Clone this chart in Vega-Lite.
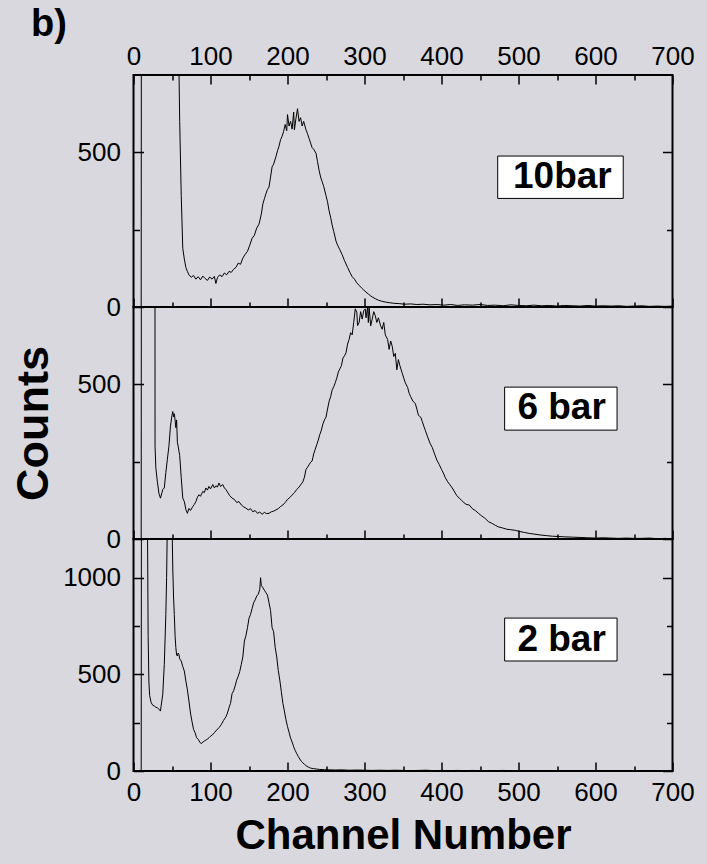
{
  "$schema": "https://vega.github.io/schema/vega-lite/v6.json",
  "padding": {"left": 9.5, "top": 6, "right": 14, "bottom": 16},
  "title": {"text": "b)", "anchor": "start", "fontSize": 38, "fontWeight": "bold", "font": "Liberation Sans", "color": "black", "dx": 21, "offset": -2},
  "spacing": 0,
  "bounds": "flush",
  "resolve": {"scale": {"x": "independent", "y": "independent"}},
  "datasets": {
    "p10": [
      {"c":0,"n":0},{"c":5,"n":0},{"c":10,"n":0},{"c":11,"n":5000},{"c":58,"n":5000},{"c":59,"n":780},{"c":60,"n":600},{"c":62,"n":360},{"c":64,"n":190},{"c":66,"n":155},{"c":68,"n":128},{"c":70,"n":115},{"c":72,"n":104},{"c":75,"n":96},{"c":78,"n":102},{"c":81,"n":90},{"c":84,"n":98},{"c":87,"n":88},{"c":90,"n":100},{"c":93,"n":92},{"c":96,"n":86},{"c":99,"n":97},{"c":102,"n":90},{"c":105,"n":99},{"c":107,"n":76},{"c":109,"n":95},{"c":112,"n":104},{"c":115,"n":98},{"c":118,"n":110},{"c":121,"n":104},{"c":124,"n":115},{"c":127,"n":112},{"c":130,"n":122},{"c":133,"n":128},{"c":136,"n":142},{"c":139,"n":138},{"c":142,"n":158},{"c":145,"n":170},{"c":148,"n":180},{"c":151,"n":200},{"c":154,"n":222},{"c":157,"n":232},{"c":160,"n":255},{"c":163,"n":268},{"c":166,"n":300},{"c":168,"n":333},{"c":170,"n":350},{"c":172,"n":366},{"c":174,"n":380},{"c":176,"n":388},{"c":178,"n":420},{"c":180,"n":453},{"c":182,"n":462},{"c":185,"n":486},{"c":187,"n":505},{"c":189,"n":520},{"c":191,"n":541},{"c":193,"n":552},{"c":195,"n":568},{"c":197,"n":590},{"c":199,"n":570},{"c":200,"n":622},{"c":202,"n":585},{"c":204,"n":600},{"c":206,"n":575},{"c":208,"n":630},{"c":209,"n":573},{"c":211,"n":610},{"c":213,"n":641},{"c":215,"n":600},{"c":217,"n":612},{"c":219,"n":585},{"c":221,"n":600},{"c":224,"n":573},{"c":226,"n":560},{"c":228,"n":545},{"c":230,"n":530},{"c":232,"n":515},{"c":234,"n":510},{"c":237,"n":497},{"c":239,"n":470},{"c":241,"n":442},{"c":243,"n":420},{"c":245,"n":405},{"c":247,"n":390},{"c":250,"n":360},{"c":252,"n":340},{"c":254,"n":311},{"c":256,"n":290},{"c":258,"n":265},{"c":260,"n":245},{"c":263,"n":213},{"c":265,"n":200},{"c":268,"n":185},{"c":271,"n":169},{"c":274,"n":150},{"c":278,"n":128},{"c":281,"n":112},{"c":284,"n":98},{"c":287,"n":90},{"c":290,"n":78},{"c":293,"n":70},{"c":296,"n":62},{"c":299,"n":55},{"c":302,"n":48},{"c":305,"n":42},{"c":308,"n":36},{"c":311,"n":31},{"c":314,"n":27},{"c":318,"n":22},{"c":322,"n":19},{"c":327,"n":16},{"c":332,"n":14},{"c":338,"n":12},{"c":345,"n":11},{"c":352,"n":9},{"c":360,"n":10},{"c":368,"n":8},{"c":376,"n":9},{"c":385,"n":7},{"c":394,"n":8},{"c":403,"n":6},{"c":412,"n":8},{"c":421,"n":5},{"c":430,"n":7},{"c":440,"n":6},{"c":450,"n":8},{"c":460,"n":5},{"c":470,"n":6},{"c":480,"n":4},{"c":490,"n":7},{"c":500,"n":5},{"c":510,"n":4},{"c":520,"n":6},{"c":530,"n":4},{"c":540,"n":5},{"c":550,"n":3},{"c":560,"n":5},{"c":570,"n":4},{"c":580,"n":3},{"c":590,"n":5},{"c":600,"n":3},{"c":610,"n":4},{"c":620,"n":3},{"c":630,"n":4},{"c":640,"n":2},{"c":650,"n":3},{"c":660,"n":4},{"c":670,"n":2},{"c":680,"n":3},{"c":690,"n":2},{"c":700,"n":3}
    ],
    "p6": [
      {"c":0,"n":0},{"c":5,"n":0},{"c":10,"n":0},{"c":11,"n":5000},{"c":27,"n":5000},{"c":28,"n":300},{"c":29,"n":230},{"c":31,"n":185},{"c":33,"n":148},{"c":35,"n":132},{"c":37,"n":150},{"c":38,"n":160},{"c":40,"n":165},{"c":42,"n":215},{"c":44,"n":258},{"c":46,"n":300},{"c":48,"n":365},{"c":50,"n":400},{"c":51,"n":412},{"c":52,"n":395},{"c":53,"n":405},{"c":54,"n":385},{"c":55,"n":360},{"c":56,"n":385},{"c":57,"n":312},{"c":58,"n":300},{"c":60,"n":270},{"c":62,"n":198},{"c":64,"n":132},{"c":66,"n":121},{"c":68,"n":95},{"c":70,"n":83},{"c":72,"n":99},{"c":74,"n":92},{"c":77,"n":105},{"c":79,"n":112},{"c":81,"n":121},{"c":83,"n":135},{"c":85,"n":143},{"c":87,"n":138},{"c":90,"n":154},{"c":92,"n":150},{"c":94,"n":165},{"c":96,"n":158},{"c":98,"n":170},{"c":100,"n":162},{"c":103,"n":176},{"c":105,"n":165},{"c":107,"n":172},{"c":109,"n":168},{"c":111,"n":181},{"c":113,"n":170},{"c":116,"n":176},{"c":118,"n":165},{"c":120,"n":160},{"c":122,"n":152},{"c":125,"n":140},{"c":128,"n":132},{"c":131,"n":128},{"c":134,"n":118},{"c":137,"n":121},{"c":140,"n":110},{"c":143,"n":104},{"c":146,"n":100},{"c":149,"n":94},{"c":152,"n":98},{"c":155,"n":88},{"c":158,"n":92},{"c":161,"n":83},{"c":164,"n":87},{"c":167,"n":80},{"c":170,"n":86},{"c":173,"n":82},{"c":176,"n":83},{"c":179,"n":88},{"c":182,"n":90},{"c":185,"n":94},{"c":188,"n":98},{"c":191,"n":105},{"c":194,"n":110},{"c":197,"n":118},{"c":200,"n":128},{"c":203,"n":134},{"c":206,"n":142},{"c":209,"n":150},{"c":212,"n":160},{"c":215,"n":168},{"c":218,"n":178},{"c":220,"n":185},{"c":222,"n":200},{"c":224,"n":225},{"c":226,"n":232},{"c":228,"n":240},{"c":230,"n":248},{"c":232,"n":252},{"c":234,"n":275},{"c":236,"n":290},{"c":238,"n":305},{"c":240,"n":320},{"c":242,"n":338},{"c":244,"n":352},{"c":246,"n":372},{"c":248,"n":385},{"c":250,"n":394},{"c":252,"n":420},{"c":254,"n":445},{"c":256,"n":460},{"c":258,"n":482},{"c":260,"n":492},{"c":262,"n":505},{"c":264,"n":520},{"c":266,"n":540},{"c":268,"n":550},{"c":270,"n":560},{"c":272,"n":585},{"c":274,"n":592},{"c":276,"n":602},{"c":278,"n":630},{"c":280,"n":645},{"c":282,"n":667},{"c":284,"n":660},{"c":286,"n":700},{"c":288,"n":744},{"c":290,"n":733},{"c":291,"n":690},{"c":293,"n":700},{"c":295,"n":735},{"c":297,"n":711},{"c":299,"n":738},{"c":301,"n":744},{"c":302,"n":715},{"c":304,"n":749},{"c":305,"n":700},{"c":306,"n":749},{"c":308,"n":689},{"c":310,"n":711},{"c":312,"n":735},{"c":314,"n":722},{"c":316,"n":700},{"c":318,"n":715},{"c":321,"n":689},{"c":323,"n":678},{"c":325,"n":700},{"c":327,"n":660},{"c":330,"n":645},{"c":332,"n":613},{"c":334,"n":640},{"c":336,"n":623},{"c":338,"n":590},{"c":340,"n":600},{"c":342,"n":547},{"c":344,"n":580},{"c":346,"n":560},{"c":349,"n":536},{"c":351,"n":520},{"c":353,"n":505},{"c":356,"n":490},{"c":358,"n":471},{"c":360,"n":460},{"c":363,"n":445},{"c":366,"n":438},{"c":368,"n":420},{"c":370,"n":400},{"c":373,"n":394},{"c":375,"n":380},{"c":377,"n":365},{"c":379,"n":351},{"c":382,"n":330},{"c":385,"n":310},{"c":388,"n":296},{"c":391,"n":275},{"c":394,"n":255},{"c":397,"n":241},{"c":400,"n":225},{"c":403,"n":210},{"c":405,"n":198},{"c":408,"n":185},{"c":411,"n":175},{"c":414,"n":165},{"c":417,"n":152},{"c":420,"n":140},{"c":423,"n":132},{"c":426,"n":125},{"c":429,"n":118},{"c":432,"n":112},{"c":436,"n":110},{"c":440,"n":98},{"c":444,"n":92},{"c":448,"n":83},{"c":452,"n":75},{"c":456,"n":68},{"c":461,"n":56},{"c":466,"n":50},{"c":470,"n":44},{"c":474,"n":39},{"c":479,"n":36},{"c":484,"n":32},{"c":490,"n":30},{"c":496,"n":28},{"c":502,"n":24},{"c":508,"n":21},{"c":514,"n":18},{"c":520,"n":16},{"c":528,"n":13},{"c":536,"n":11},{"c":544,"n":9},{"c":552,"n":8},{"c":560,"n":7},{"c":570,"n":6},{"c":580,"n":5},{"c":590,"n":4},{"c":600,"n":3},{"c":610,"n":4},{"c":620,"n":3},{"c":630,"n":2},{"c":640,"n":3},{"c":650,"n":2},{"c":660,"n":2},{"c":670,"n":3},{"c":680,"n":1},{"c":690,"n":2},{"c":700,"n":1}
    ],
    "p2": [
      {"c":0,"n":0},{"c":5,"n":0},{"c":10,"n":0},{"c":11,"n":5000},{"c":17,"n":5000},{"c":18,"n":1400},{"c":19,"n":700},{"c":20,"n":460},{"c":21,"n":390},{"c":23,"n":353},{"c":25,"n":340},{"c":27,"n":336},{"c":29,"n":330},{"c":31,"n":327},{"c":33,"n":320},{"c":35,"n":310},{"c":36,"n":340},{"c":38,"n":397},{"c":40,"n":552},{"c":42,"n":810},{"c":43,"n":1000},{"c":44,"n":1300},{"c":45,"n":5000},{"c":49,"n":5000},{"c":50,"n":1300},{"c":51,"n":1050},{"c":52,"n":900},{"c":53,"n":810},{"c":54,"n":700},{"c":55,"n":638},{"c":56,"n":600},{"c":57,"n":595},{"c":58,"n":610},{"c":59,"n":603},{"c":60,"n":580},{"c":62,"n":569},{"c":64,"n":540},{"c":66,"n":517},{"c":68,"n":465},{"c":70,"n":420},{"c":72,"n":362},{"c":74,"n":300},{"c":76,"n":255},{"c":78,"n":215},{"c":80,"n":198},{"c":82,"n":172},{"c":84,"n":164},{"c":86,"n":150},{"c":88,"n":141},{"c":90,"n":150},{"c":92,"n":155},{"c":94,"n":160},{"c":96,"n":165},{"c":98,"n":172},{"c":100,"n":180},{"c":102,"n":185},{"c":105,"n":198},{"c":108,"n":212},{"c":111,"n":224},{"c":114,"n":240},{"c":117,"n":262},{"c":120,"n":280},{"c":122,"n":300},{"c":124,"n":327},{"c":126,"n":350},{"c":128,"n":400},{"c":130,"n":415},{"c":132,"n":440},{"c":134,"n":470},{"c":136,"n":490},{"c":138,"n":515},{"c":140,"n":552},{"c":142,"n":590},{"c":144,"n":672},{"c":146,"n":700},{"c":148,"n":741},{"c":150,"n":790},{"c":152,"n":810},{"c":154,"n":840},{"c":156,"n":870},{"c":158,"n":885},{"c":160,"n":905},{"c":162,"n":914},{"c":164,"n":940},{"c":165,"n":1000},{"c":166,"n":960},{"c":168,"n":948},{"c":170,"n":935},{"c":172,"n":922},{"c":174,"n":910},{"c":176,"n":870},{"c":178,"n":830},{"c":180,"n":741},{"c":182,"n":720},{"c":184,"n":640},{"c":186,"n":590},{"c":188,"n":520},{"c":190,"n":470},{"c":192,"n":410},{"c":194,"n":350},{"c":196,"n":310},{"c":198,"n":265},{"c":200,"n":230},{"c":202,"n":200},{"c":204,"n":170},{"c":206,"n":150},{"c":208,"n":125},{"c":210,"n":106},{"c":212,"n":90},{"c":214,"n":75},{"c":216,"n":62},{"c":218,"n":50},{"c":220,"n":42},{"c":222,"n":35},{"c":224,"n":28},{"c":227,"n":20},{"c":230,"n":15},{"c":234,"n":12},{"c":238,"n":10},{"c":242,"n":8},{"c":248,"n":7},{"c":255,"n":6},{"c":262,"n":5},{"c":270,"n":6},{"c":280,"n":4},{"c":290,"n":5},{"c":300,"n":4},{"c":310,"n":3},{"c":320,"n":4},{"c":330,"n":3},{"c":340,"n":4},{"c":350,"n":3},{"c":360,"n":2},{"c":370,"n":3},{"c":380,"n":4},{"c":390,"n":2},{"c":400,"n":3},{"c":410,"n":2},{"c":420,"n":3},{"c":430,"n":2},{"c":440,"n":3},{"c":450,"n":2},{"c":460,"n":1},{"c":470,"n":2},{"c":480,"n":3},{"c":490,"n":2},{"c":500,"n":1},{"c":510,"n":2},{"c":520,"n":2},{"c":530,"n":1},{"c":540,"n":2},{"c":550,"n":1},{"c":560,"n":2},{"c":570,"n":1},{"c":580,"n":2},{"c":590,"n":1},{"c":600,"n":1},{"c":610,"n":2},{"c":620,"n":1},{"c":630,"n":1},{"c":640,"n":2},{"c":650,"n":1},{"c":660,"n":1},{"c":670,"n":2},{"c":680,"n":1},{"c":690,"n":1},{"c":700,"n":1}
    ]
  },
  "vconcat": [
    {
      "width": 539, "height": 232,
      "resolve": {"axis": {"x": "independent", "y": "independent"}},
      "layer": [
        {
          "data": {"name": "p10"},
          "mark": {"type": "line", "color": "black", "strokeWidth": 1, "clip": true},
          "encoding": {
            "x": {"field": "c", "type": "quantitative", "scale": {"domain": [0, 700], "nice": false, "zero": false},
                  "axis": {"orient": "bottom", "values": [0,100,200,300,400,500,600,700], "tickSize": -9, "labels": false, "title": null}},
            "y": {"field": "n", "type": "quantitative", "scale": {"domain": [0, 750], "nice": false},
                  "axis": {"orient": "left", "values": [0, 500], "format": "d", "tickSize": -10, "labelPadding": 23, "title": null}}
          }
        },
        {
          "data": {"values": [{"x0": 473, "x1": 636, "y0": 488, "y1": 351}]},
          "mark": {"type": "rect", "fill": "white", "stroke": "black", "strokeWidth": 1},
          "encoding": {
            "x": {"field": "x0", "type": "quantitative", "axis": {"orient": "bottom", "values": [50,150,250,350,450,550,650], "tickSize": -5, "labels": false, "title": null}},
            "x2": {"field": "x1"},
            "y": {"field": "y0", "type": "quantitative", "axis": {"orient": "left", "values": [250], "tickSize": -6, "labels": false, "title": null}},
            "y2": {"field": "y1"}
          }
        },
        {
          "data": {"values": [{"c": 557, "n": 420, "label": "10bar"}]},
          "mark": {"type": "text", "font": "Liberation Sans", "fontSize": 37, "fontWeight": "bold", "color": "black", "align": "center", "baseline": "middle"},
          "encoding": {
            "x": {"field": "c", "type": "quantitative", "axis": {"orient": "top", "values": [0,100,200,300,400,500,600,700], "tickSize": -9, "labelPadding": 15, "title": null}},
            "y": {"field": "n", "type": "quantitative", "axis": {"orient": "right", "values": [0, 500], "tickSize": -10, "labels": false, "title": null}},
            "text": {"field": "label"}
          }
        },
        {
          "data": {"values": [{"c": 557, "n": 420}]},
          "mark": {"type": "point", "opacity": 0},
          "encoding": {
            "x": {"field": "c", "type": "quantitative", "axis": {"orient": "top", "values": [50,150,250,350,450,550,650], "tickSize": -5, "labels": false, "title": null}},
            "y": {"field": "n", "type": "quantitative", "axis": {"orient": "right", "values": [250], "tickSize": -6, "labels": false, "title": null}}
          }
        }
      ]
    },
    {
      "width": 539, "height": 232,
      "resolve": {"axis": {"x": "independent", "y": "independent"}},
      "layer": [
        {
          "data": {"name": "p6"},
          "mark": {"type": "line", "color": "black", "strokeWidth": 1, "clip": true},
          "encoding": {
            "x": {"field": "c", "type": "quantitative", "scale": {"domain": [0, 700], "nice": false, "zero": false},
                  "axis": {"orient": "bottom", "values": [0,100,200,300,400,500,600,700], "tickSize": -9, "labels": false, "title": null}},
            "y": {"field": "n", "type": "quantitative", "scale": {"domain": [0, 750], "nice": false},
                  "axis": {"orient": "left", "values": [0, 500], "format": "d", "tickSize": -10, "labelPadding": 23, "title": "Counts", "titleFontSize": 45, "titlePadding": 21}}
          }
        },
        {
          "data": {"values": [{"x0": 482, "x1": 628, "y0": 491, "y1": 352}]},
          "mark": {"type": "rect", "fill": "white", "stroke": "black", "strokeWidth": 1},
          "encoding": {
            "x": {"field": "x0", "type": "quantitative", "axis": {"orient": "bottom", "values": [50,150,250,350,450,550,650], "tickSize": -5, "labels": false, "title": null}},
            "x2": {"field": "x1"},
            "y": {"field": "y0", "type": "quantitative", "axis": {"orient": "left", "values": [250], "tickSize": -6, "labels": false, "title": null}},
            "y2": {"field": "y1"}
          }
        },
        {
          "data": {"values": [{"c": 556, "n": 422, "label": "6 bar"}]},
          "mark": {"type": "text", "font": "Liberation Sans", "fontSize": 37, "fontWeight": "bold", "color": "black", "align": "center", "baseline": "middle"},
          "encoding": {
            "x": {"field": "c", "type": "quantitative", "axis": null},
            "y": {"field": "n", "type": "quantitative", "axis": {"orient": "right", "values": [0, 500], "tickSize": -10, "labels": false, "title": null}},
            "text": {"field": "label"}
          }
        },
        {
          "data": {"values": [{"c": 556, "n": 422}]},
          "mark": {"type": "point", "opacity": 0},
          "encoding": {
            "x": {"field": "c", "type": "quantitative", "axis": null},
            "y": {"field": "n", "type": "quantitative", "axis": {"orient": "right", "values": [250], "tickSize": -6, "labels": false, "title": null}}
          }
        }
      ]
    },
    {
      "width": 539, "height": 232,
      "resolve": {"axis": {"x": "independent", "y": "independent"}},
      "layer": [
        {
          "data": {"name": "p2"},
          "mark": {"type": "line", "color": "black", "strokeWidth": 1, "clip": true},
          "encoding": {
            "x": {"field": "c", "type": "quantitative", "scale": {"domain": [0, 700], "nice": false, "zero": false},
                  "axis": {"orient": "bottom", "values": [0,100,200,300,400,500,600,700], "tickSize": -9, "labelPadding": 17, "title": "Channel Number", "titlePadding": 10}},
            "y": {"field": "n", "type": "quantitative", "scale": {"domain": [0, 1200], "nice": false},
                  "axis": {"orient": "left", "values": [0, 500, 1000], "format": "d", "tickSize": -10, "labelPadding": 23, "title": null}}
          }
        },
        {
          "data": {"values": [{"x0": 482, "x1": 628, "y0": 791, "y1": 569}]},
          "mark": {"type": "rect", "fill": "white", "stroke": "black", "strokeWidth": 1},
          "encoding": {
            "x": {"field": "x0", "type": "quantitative", "axis": {"orient": "bottom", "values": [50,150,250,350,450,550,650], "tickSize": -5, "labels": false, "title": null}},
            "x2": {"field": "x1"},
            "y": {"field": "y0", "type": "quantitative", "axis": {"orient": "left", "values": [250, 750], "tickSize": -6, "labels": false, "title": null}},
            "y2": {"field": "y1"}
          }
        },
        {
          "data": {"values": [{"c": 556, "n": 680, "label": "2 bar"}]},
          "mark": {"type": "text", "font": "Liberation Sans", "fontSize": 37, "fontWeight": "bold", "color": "black", "align": "center", "baseline": "middle"},
          "encoding": {
            "x": {"field": "c", "type": "quantitative", "axis": null},
            "y": {"field": "n", "type": "quantitative", "axis": {"orient": "right", "values": [0, 500, 1000], "tickSize": -10, "labels": false, "title": null}},
            "text": {"field": "label"}
          }
        },
        {
          "data": {"values": [{"c": 556, "n": 680}]},
          "mark": {"type": "point", "opacity": 0},
          "encoding": {
            "x": {"field": "c", "type": "quantitative", "axis": null},
            "y": {"field": "n", "type": "quantitative", "axis": {"orient": "right", "values": [250, 750], "tickSize": -6, "labels": false, "title": null}}
          }
        }
      ]
    }
  ],
  "config": {
    "background": "#d9d8de",
    "font": "Liberation Sans",
    "view": {"stroke": "black", "strokeWidth": 2},
    "axis": {
      "grid": false, "domain": false, "tickColor": "black", "tickWidth": 1.5,
      "labelColor": "black", "labelFont": "Liberation Sans", "labelFontSize": 26,
      "labelFlush": false, "labelOverlap": false, "minExtent": 0,
      "titleColor": "black", "titleFont": "Liberation Sans", "titleFontSize": 42, "titleFontWeight": "bold"
    }
  }
}
